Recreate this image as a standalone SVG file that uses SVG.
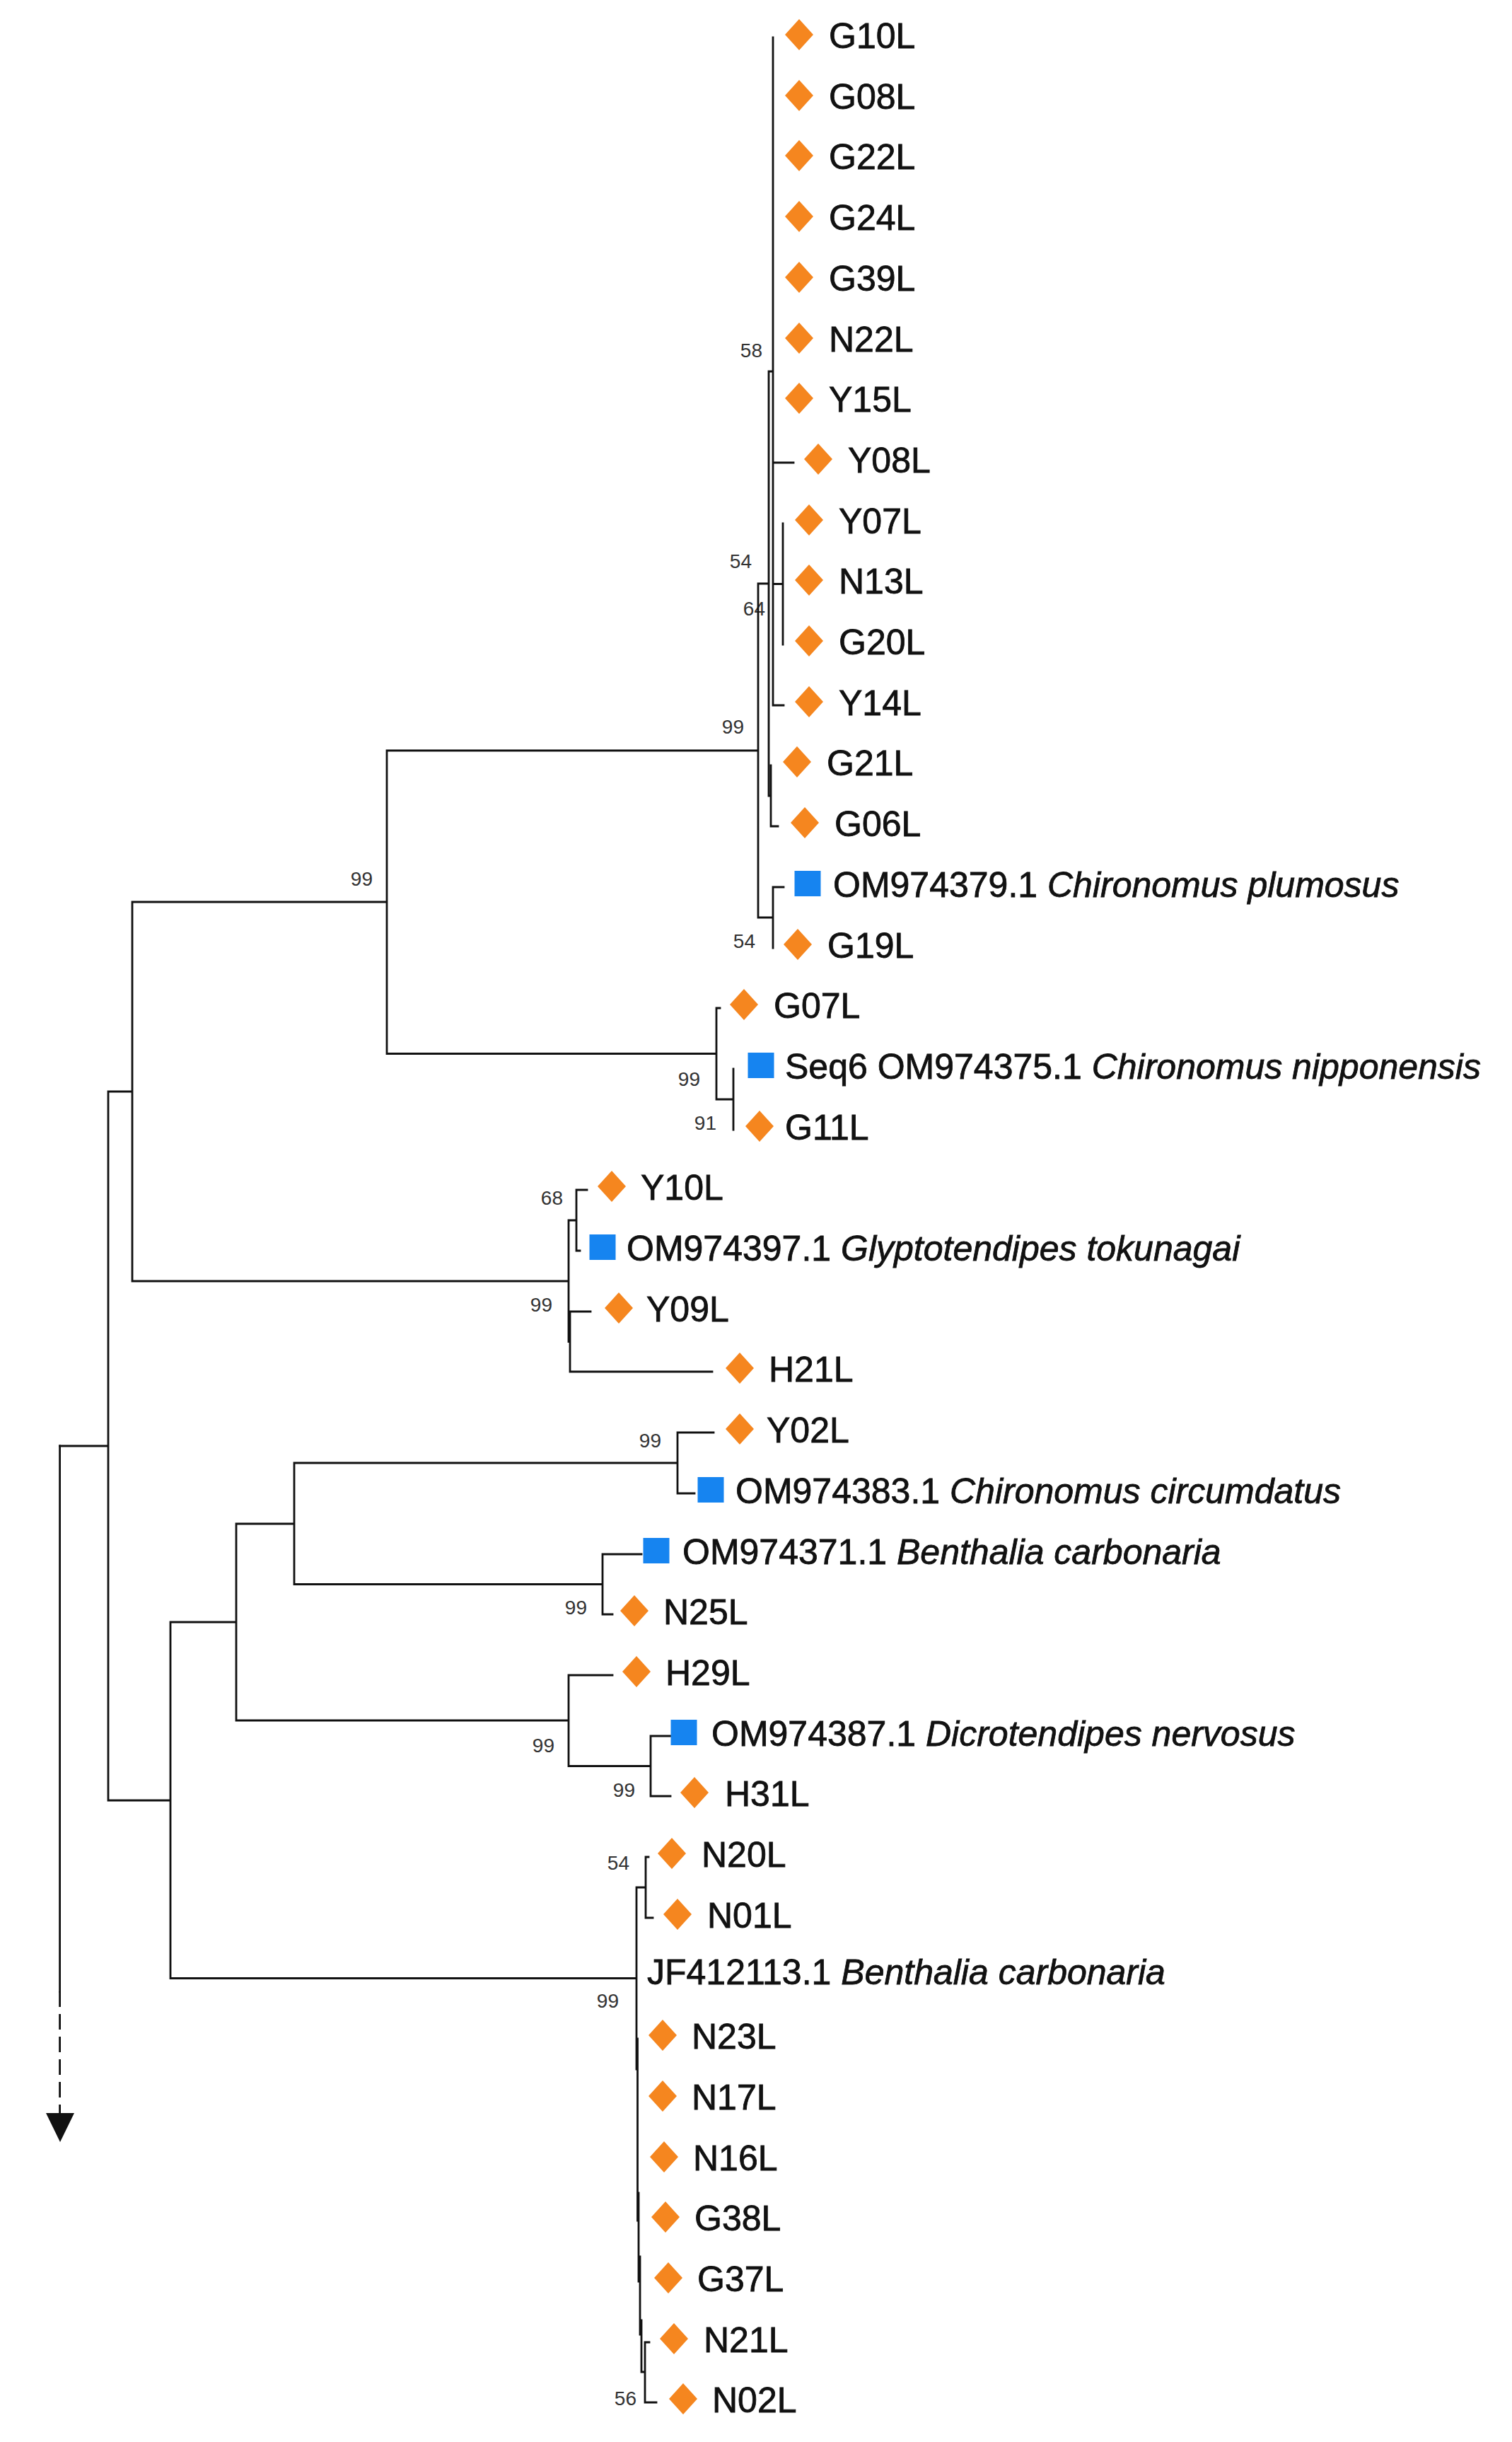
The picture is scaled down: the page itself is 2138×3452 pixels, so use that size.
<svg xmlns="http://www.w3.org/2000/svg" xmlns:xlink="http://www.w3.org/1999/xlink" width="2138" height="3452" viewBox="0 0 2138 3452">
<style>
.lbl{font-family:"Liberation Sans",Arial,sans-serif;font-size:50px;fill:#111;stroke:#111;stroke-width:0.8}
.sp{font-style:italic}
.bs{font-family:"Liberation Sans",Arial,sans-serif;font-size:28px;fill:#333;text-anchor:end}
.br{fill:none;stroke:#111;stroke-width:2.8;stroke-linecap:square}
.dia{fill:#F5861F}
.sq{fill:#1684F0}
</style>
<defs>
<polygon id="d" class="dia" points="0,-22 20,0 0,22 -20,0"/>
<rect id="s" class="sq" x="-18.5" y="-18" width="37" height="36"/>
</defs>
<rect width="2138" height="3452" fill="#fff"/>
<g id="support-values">
<text class="bs" x="1078" y="505">58</text>
<text class="bs" x="1063" y="803">54</text>
<text class="bs" x="1082" y="870">64</text>
<text class="bs" x="1052" y="1037">99</text>
<text class="bs" x="1068" y="1340">54</text>
<text class="bs" x="527" y="1252">99</text>
<text class="bs" x="990" y="1535">99</text>
<text class="bs" x="1013" y="1597">91</text>
<text class="bs" x="796" y="1703">68</text>
<text class="bs" x="781" y="1854">99</text>
<text class="bs" x="935" y="2046">99</text>
<text class="bs" x="830" y="2282">99</text>
<text class="bs" x="784" y="2477">99</text>
<text class="bs" x="898" y="2540">99</text>
<text class="bs" x="890" y="2643">54</text>
<text class="bs" x="875" y="2838">99</text>
<text class="bs" x="900" y="3400">56</text>
</g>
<g id="connectors">
<path class="br" d="M84.6,2044 H153 M153,1543 V2545 M153,1543 H187 M187,1275 V1811 M187,1275 H547 M547,1061 V1489.5 M547,1061 H1072 M1072,825 V1297 M1072,825 H1087 M1087,525 V1125 M1087,525 H1093 M1093,53 V997 M1093,654 H1122 M1093,825.5 H1107 M1107,740 V911 M1093,997 H1108 M1087,1125 H1090 M1090,1082 V1168 M1090,1168 H1100 M1072,1297 H1093 M1093,1254 V1340 M1093,1254 H1108 M547,1489.5 H1013 M1013,1425 V1554 M1013,1425 H1018 M1013,1554 H1037 M1037,1511 V1597 M187,1811 H804 M804,1725 V1896.5 M804,1725 H815 M815,1682 V1768 M815,1682 H830 M815,1768 H820 M804,1896.5 H806 M806,1854 V1939 M806,1854 H835 M806,1939 H1007 M153,2545 H241 M241,2293 V2796.5 M241,2293 H334 M334,2154 V2432 M334,2154 H416 M416,2068 V2239.5 M416,2068 H958 M958,2025 V2111 M958,2025 H1009 M958,2111 H982 M416,2239.5 H852 M852,2197 V2282 M852,2197 H907 M852,2282 H866 M334,2432 H804 M804,2368 V2496.5 M804,2368 H866 M804,2496.5 H920 M920,2454 V2539 M920,2454 H948 M920,2539 H948 M241,2796.5 H900 M900,2668 V2925 M900,2668 H913 M913,2625 V2711 M913,2625 H917 M913,2711 H923 M901.5,2882 V3139 M903,3100 V3225 M905,3190 V3300 M907,3280 V3353 M907,3353 H912 M912,3311 V3396 M912,3311 H918 M912,3396 H928"/>
<path class="br" d="M84.6,2044 V2815"/>
<path d="M84.6,2815 V2987" fill="none" stroke="#111" stroke-width="2.8" stroke-dasharray="22 10"/>
<polygon points="65,2987 105,2987 85,3028" fill="#111"/>
</g>
<g id="n-G10L"><use xlink:href="#d" x="1130" y="49"/><text class="lbl" x="1172" y="68">G10L</text></g>
<g id="n-G08L"><use xlink:href="#d" x="1130" y="135"/><text class="lbl" x="1172" y="154">G08L</text></g>
<g id="n-G22L"><use xlink:href="#d" x="1130" y="220"/><text class="lbl" x="1172" y="239">G22L</text></g>
<g id="n-G24L"><use xlink:href="#d" x="1130" y="306"/><text class="lbl" x="1172" y="325">G24L</text></g>
<g id="n-G39L"><use xlink:href="#d" x="1130" y="392"/><text class="lbl" x="1172" y="411">G39L</text></g>
<g id="n-N22L"><use xlink:href="#d" x="1130" y="478"/><text class="lbl" x="1172" y="497">N22L</text></g>
<g id="n-Y15L"><use xlink:href="#d" x="1130" y="563"/><text class="lbl" x="1172" y="582">Y15L</text></g>
<g id="n-Y08L"><use xlink:href="#d" x="1157" y="649"/><text class="lbl" x="1199" y="668">Y08L</text></g>
<g id="n-Y07L"><use xlink:href="#d" x="1144" y="735"/><text class="lbl" x="1186" y="754">Y07L</text></g>
<g id="n-N13L"><use xlink:href="#d" x="1144" y="820"/><text class="lbl" x="1186" y="839">N13L</text></g>
<g id="n-G20L"><use xlink:href="#d" x="1144" y="906"/><text class="lbl" x="1186" y="925">G20L</text></g>
<g id="n-Y14L"><use xlink:href="#d" x="1144" y="992"/><text class="lbl" x="1186" y="1011">Y14L</text></g>
<g id="n-G21L"><use xlink:href="#d" x="1127" y="1077"/><text class="lbl" x="1169" y="1096">G21L</text></g>
<g id="n-G06L"><use xlink:href="#d" x="1138" y="1163"/><text class="lbl" x="1180" y="1182">G06L</text></g>
<g id="n-OM974379"><use xlink:href="#s" x="1142" y="1249"/><text class="lbl" x="1178" y="1268">OM974379.1 <tspan class="sp">Chironomus plumosus</tspan></text></g>
<g id="n-G19L"><use xlink:href="#d" x="1128" y="1335"/><text class="lbl" x="1170" y="1354">G19L</text></g>
<g id="n-G07L"><use xlink:href="#d" x="1052" y="1420"/><text class="lbl" x="1094" y="1439">G07L</text></g>
<g id="n-OM974375"><use xlink:href="#s" x="1076" y="1506"/><text class="lbl" x="1110" y="1525">Seq6 OM974375.1 <tspan class="sp">Chironomus nipponensis</tspan></text></g>
<g id="n-G11L"><use xlink:href="#d" x="1074" y="1592"/><text class="lbl" x="1110" y="1611">G11L</text></g>
<g id="n-Y10L"><use xlink:href="#d" x="865" y="1677"/><text class="lbl" x="906" y="1696">Y10L</text></g>
<g id="n-OM974397"><use xlink:href="#s" x="852" y="1763"/><text class="lbl" x="886" y="1782">OM974397.1 <tspan class="sp">Glyptotendipes tokunagai</tspan></text></g>
<g id="n-Y09L"><use xlink:href="#d" x="875" y="1849"/><text class="lbl" x="914" y="1868">Y09L</text></g>
<g id="n-H21L"><use xlink:href="#d" x="1046" y="1934"/><text class="lbl" x="1087" y="1953">H21L</text></g>
<g id="n-Y02L"><use xlink:href="#d" x="1046" y="2020"/><text class="lbl" x="1084" y="2039">Y02L</text></g>
<g id="n-OM974383"><use xlink:href="#s" x="1005" y="2106"/><text class="lbl" x="1040" y="2125">OM974383.1 <tspan class="sp">Chironomus circumdatus</tspan></text></g>
<g id="n-OM974371"><use xlink:href="#s" x="928" y="2192"/><text class="lbl" x="965" y="2211">OM974371.1 <tspan class="sp">Benthalia carbonaria</tspan></text></g>
<g id="n-N25L"><use xlink:href="#d" x="897" y="2277"/><text class="lbl" x="938" y="2296">N25L</text></g>
<g id="n-H29L"><use xlink:href="#d" x="900" y="2363"/><text class="lbl" x="941" y="2382">H29L</text></g>
<g id="n-OM974387"><use xlink:href="#s" x="967" y="2449"/><text class="lbl" x="1006" y="2468">OM974387.1 <tspan class="sp">Dicrotendipes nervosus</tspan></text></g>
<g id="n-H31L"><use xlink:href="#d" x="982" y="2534"/><text class="lbl" x="1025" y="2553">H31L</text></g>
<g id="n-N20L"><use xlink:href="#d" x="950" y="2620"/><text class="lbl" x="992" y="2639">N20L</text></g>
<g id="n-N01L"><use xlink:href="#d" x="958" y="2706"/><text class="lbl" x="1000" y="2725">N01L</text></g>
<g id="n-JF412113"><text class="lbl" x="915" y="2805">JF412113.1 <tspan class="sp">Benthalia carbonaria</tspan></text></g>
<g id="n-N23L"><use xlink:href="#d" x="937" y="2877"/><text class="lbl" x="978" y="2896">N23L</text></g>
<g id="n-N17L"><use xlink:href="#d" x="937" y="2963"/><text class="lbl" x="978" y="2982">N17L</text></g>
<g id="n-N16L"><use xlink:href="#d" x="939" y="3049"/><text class="lbl" x="980" y="3068">N16L</text></g>
<g id="n-G38L"><use xlink:href="#d" x="941" y="3134"/><text class="lbl" x="982" y="3153">G38L</text></g>
<g id="n-G37L"><use xlink:href="#d" x="945" y="3220"/><text class="lbl" x="986" y="3239">G37L</text></g>
<g id="n-N21L"><use xlink:href="#d" x="953" y="3306"/><text class="lbl" x="995" y="3325">N21L</text></g>
<g id="n-N02L"><use xlink:href="#d" x="966" y="3391"/><text class="lbl" x="1007" y="3410">N02L</text></g>
</svg>
